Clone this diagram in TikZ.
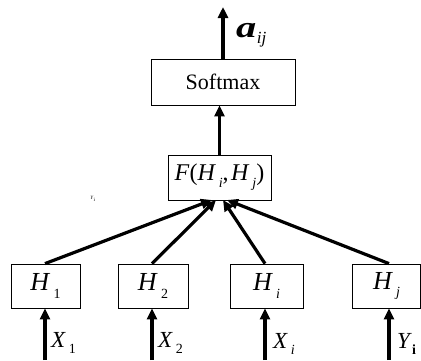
\documentclass[tikz,border=0pt]{standalone}
\usepackage{fontspec}
\setmainfont{Liberation Serif}
\usetikzlibrary{arrows.meta}
\newcommand{\mysub}[2]{\textit{#1}\kern0.12em\raisebox{-0.3em}{\fontsize{14}{14}\selectfont\textit{#2}}}
\newcommand{\mysubup}[2]{\textit{#1}\kern0.12em\raisebox{-0.3em}{\fontsize{14}{14}\selectfont #2}}
\begin{document}
\begin{tikzpicture}[x=1pt,y=-1pt,
  box/.style={draw,line width=0.8pt,inner sep=0pt,font=\fontsize{22}{22}\selectfont},
  hbox/.style={box,minimum height=44pt,font=\fontsize{26}{26}\selectfont},
  arr/.style={line width=3.2pt,-{Triangle[length=11pt,width=10pt]}},
  lab/.style={font=\fontsize{23}{23}\selectfont,inner sep=0pt,anchor=base west}]
\useasboundingbox (0,0) rectangle (421,360);
\node[box,minimum width=144pt,minimum height=46pt] (soft) at (223,82) {Softmax};
\node[box,minimum width=103pt,minimum height=45pt,font=\fontsize{24}{24}\selectfont] (F) at (219.5,177.5) {\textit{F}(\mysub{H}{i},\kern0.1em\mysub{H}{j})};
\node[hbox,minimum width=69pt] (h1) at (45.5,286) {\mysubup{H}{1}};
\node[hbox,minimum width=70pt] (h2) at (153,286) {\mysubup{H}{2}};
\node[hbox,minimum width=73pt] (hi) at (266.5,286) {\mysub{H}{i}};
\node[hbox,minimum width=68pt] (hj) at (386.5,286) {\mysub{H}{j}};
\coordinate (top) at (223,7);
\coordinate (b1) at (45,360);
\coordinate (b2) at (152,360);
\coordinate (b3) at (265,360);
\coordinate (b4) at (389,360);
\coordinate (f1) at (212,200);
\coordinate (f2) at (216,200);
\coordinate (f3) at (223,200);
\coordinate (f4) at (227,200);
\draw[arr] (soft.north) -- (top);
\draw[arr] (F.north) -- (F.north |- soft.south);
\draw[arr] (h1.north -| b1) -- (f1);
\draw[arr] (h2.north -| b2) -- (f2);
\draw[arr] (hi.north -| b3) -- (f3);
\draw[arr] (hj.north -| b4) -- (f4);
\draw[arr] (b1) -- (b1 |- h1.south);
\draw[arr] (b2) -- (b2 |- h2.south);
\draw[arr] (b3) -- (b3 |- hi.south);
\draw[arr] (b4) -- (b4 |- hj.south);
\node[lab] (aij) at (236,37) {\scalebox{1.35}[1]{\fontsize{30}{30}\selectfont\bfseries\itshape a}\kern0.02em\raisebox{-0.3em}{\fontsize{17}{17}\selectfont\itshape ij}};
\node[lab] (x1) at (51,347) {\mysubup{X}{1}};
\node[lab] (x2) at (158,347) {\mysubup{X}{2}};
\node[lab] (xi) at (273,348) {\mysub{X}{i}};
\node[lab] (yi) at (397,348) {\textit{Y}\raisebox{-0.3em}{\fontsize{14}{14}\selectfont\bfseries i}};
\node[lab,anchor=center,font=\fontsize{5}{5}\selectfont] (tiny) at (93,199) {\textit{Y}\textsubscript{i}};
\end{tikzpicture}
\end{document}
